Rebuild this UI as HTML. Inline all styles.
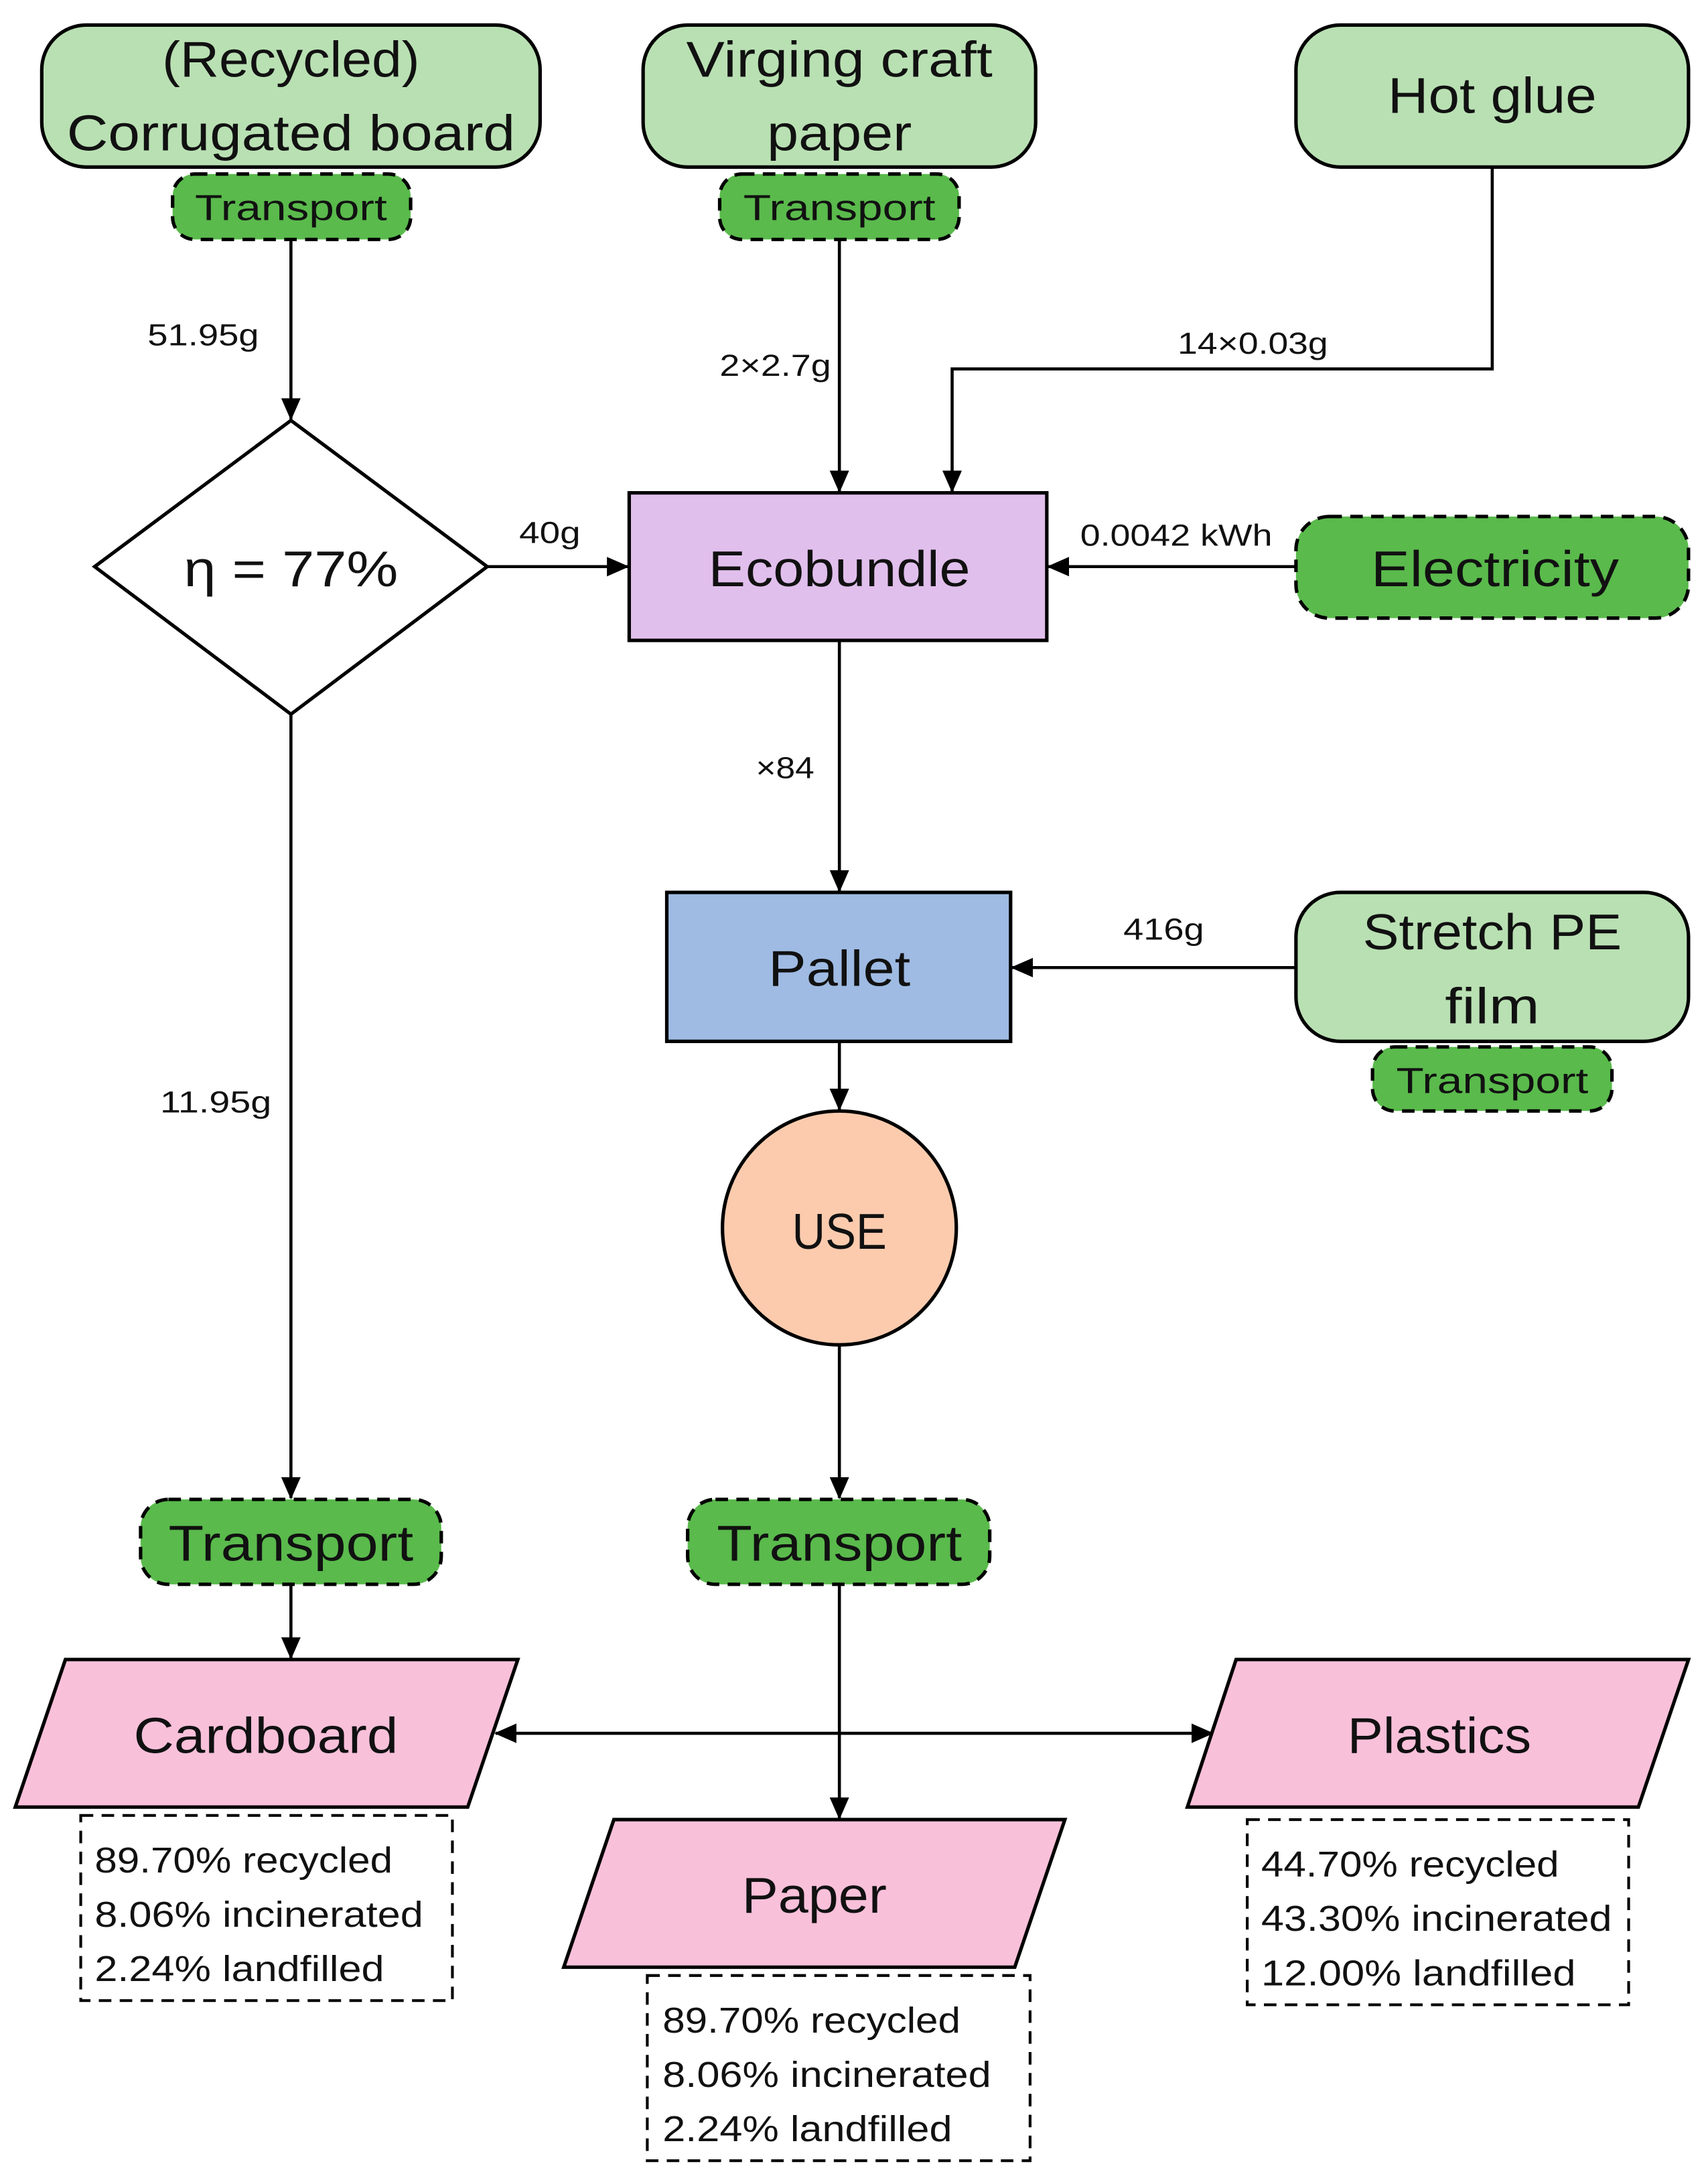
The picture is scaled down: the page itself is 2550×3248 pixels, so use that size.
<!DOCTYPE html>
<html><head><meta charset="utf-8"><style>
html,body{margin:0;padding:0;background:#fff;}
svg{display:block;}
text{font-family:"Liberation Sans",sans-serif;fill:#111;}
</style></head><body>
<svg width="2550" height="3248" viewBox="0 0 1227 1563" preserveAspectRatio="none" xmlns="http://www.w3.org/2000/svg">
<defs>
<marker id="as" markerWidth="16" markerHeight="16" refX="15" refY="7" orient="auto" markerUnits="userSpaceOnUse"><path d="M0,0 L16,7 L0,14 z" fill="#000"/></marker>
<marker id="ae" markerWidth="16" markerHeight="16" refX="1" refY="7" orient="auto" markerUnits="userSpaceOnUse"><path d="M16,0 L0,7 L16,14 z" fill="#000"/></marker>
</defs>
<g stroke="#000" stroke-width="2.2" fill="none">
<line x1="209" y1="172" x2="209" y2="301" marker-end="url(#as)"/>
<line x1="603" y1="172" x2="603" y2="353" marker-end="url(#as)"/>
<polyline points="1072,120 1072,265 684,265 684,353" marker-end="url(#as)"/>
<line x1="350" y1="407" x2="451" y2="407" marker-end="url(#as)"/>
<line x1="931" y1="407" x2="753" y2="407" marker-end="url(#as)"/>
<line x1="603" y1="460" x2="603" y2="640" marker-end="url(#as)"/>
<line x1="931" y1="695" x2="727" y2="695" marker-end="url(#as)"/>
<line x1="603" y1="748" x2="603" y2="797" marker-end="url(#as)"/>
<line x1="603" y1="966" x2="603" y2="1076" marker-end="url(#as)"/>
<line x1="209" y1="513" x2="209" y2="1076" marker-end="url(#as)"/>
<line x1="209" y1="1138" x2="209" y2="1191" marker-end="url(#as)"/>
<line x1="603" y1="1138" x2="603" y2="1306" marker-end="url(#as)"/>
<line x1="356" y1="1245" x2="871" y2="1245" marker-start="url(#ae)" marker-end="url(#as)"/>
</g>
<g stroke="#000" stroke-width="2.5">
<rect x="30" y="18" width="358" height="102" rx="32" fill="#b9e0b3"/>
<rect x="462" y="18" width="282" height="102" rx="32" fill="#b9e0b3"/>
<rect x="931" y="18" width="282" height="102" rx="32" fill="#b9e0b3"/>
<rect x="931" y="641" width="282" height="107" rx="32" fill="#b9e0b3"/>
<rect x="124" y="125" width="171" height="47" rx="16" fill="#5aba4c" stroke-dasharray="9,6"/>
<rect x="517" y="125" width="172" height="47" rx="16" fill="#5aba4c" stroke-dasharray="9,6"/>
<rect x="986" y="752" width="172" height="46" rx="16" fill="#5aba4c" stroke-dasharray="9,6"/>
<rect x="931" y="371" width="282" height="73" rx="24" fill="#5aba4c" stroke-dasharray="9,6"/>
<rect x="101" y="1077" width="216" height="61" rx="20" fill="#5aba4c" stroke-dasharray="9,6"/>
<rect x="494" y="1077" width="217" height="61" rx="20" fill="#5aba4c" stroke-dasharray="9,6"/>
<polygon points="209,302 350,407 209,513 68,407" fill="#fff"/>
<rect x="452" y="354" width="300" height="106" fill="#e1bfec"/>
<rect x="479" y="641" width="247" height="107" fill="#9fbbe3"/>
<circle cx="603" cy="882" r="84" fill="#fccbae"/>
<polygon points="47,1192 372,1192 336,1298 11,1298" fill="#f9c0da"/>
<polygon points="441,1307 765,1307 729,1413 405,1413" fill="#f9c0da"/>
<polygon points="888,1192 1213,1192 1177,1298 853,1298" fill="#f9c0da"/>
<g fill="none" stroke-width="2" stroke-dasharray="9,6">
<rect x="58" y="1304" width="267" height="133"/>
<rect x="465" y="1419" width="275" height="133"/>
<rect x="896" y="1307" width="274" height="133"/>
</g>
</g>
<g text-anchor="middle" font-size="36">
<text x="209" y="55" textLength="185" lengthAdjust="spacingAndGlyphs">(Recycled)</text>
<text x="209" y="108" textLength="322" lengthAdjust="spacingAndGlyphs">Corrugated board</text>
<text x="603" y="55" textLength="220" lengthAdjust="spacingAndGlyphs">Virging craft</text>
<text x="603" y="108" textLength="104" lengthAdjust="spacingAndGlyphs">paper</text>
<text x="1072" y="81" textLength="150" lengthAdjust="spacingAndGlyphs">Hot glue</text>
<text x="1074" y="421" textLength="178" lengthAdjust="spacingAndGlyphs">Electricity</text>
<text x="603" y="421" textLength="188" lengthAdjust="spacingAndGlyphs">Ecobundle</text>
<text x="603" y="708" textLength="102" lengthAdjust="spacingAndGlyphs">Pallet</text>
<text x="1072" y="682" textLength="186" lengthAdjust="spacingAndGlyphs">Stretch PE</text>
<text x="1072" y="735" textLength="68" lengthAdjust="spacingAndGlyphs">film</text>
<text x="603" y="897" textLength="68" lengthAdjust="spacingAndGlyphs">USE</text>
<text x="209" y="421" textLength="154" lengthAdjust="spacingAndGlyphs">η  = 77%</text>
<text x="209" y="1121" textLength="176" lengthAdjust="spacingAndGlyphs">Transport</text>
<text x="603" y="1121" textLength="176" lengthAdjust="spacingAndGlyphs">Transport</text>
<text x="191" y="1259" textLength="190" lengthAdjust="spacingAndGlyphs">Cardboard</text>
<text x="585" y="1374" textLength="104" lengthAdjust="spacingAndGlyphs">Paper</text>
<text x="1034" y="1259" textLength="132" lengthAdjust="spacingAndGlyphs">Plastics</text>
</g>
<g text-anchor="middle" font-size="26">
<text x="209" y="158" textLength="138" lengthAdjust="spacingAndGlyphs">Transport</text>
<text x="603" y="158" textLength="138" lengthAdjust="spacingAndGlyphs">Transport</text>
<text x="1072" y="785" textLength="138" lengthAdjust="spacingAndGlyphs">Transport</text>
</g>
<g text-anchor="middle" font-size="22">
<text x="146" y="248" textLength="80" lengthAdjust="spacingAndGlyphs">51.95g</text>
<text x="557" y="270" textLength="80" lengthAdjust="spacingAndGlyphs">2×2.7g</text>
<text x="900" y="254" textLength="108" lengthAdjust="spacingAndGlyphs">14×0.03g</text>
<text x="395" y="390" textLength="44" lengthAdjust="spacingAndGlyphs">40g</text>
<text x="845" y="392" textLength="138" lengthAdjust="spacingAndGlyphs">0.0042 kWh</text>
<text x="564" y="559" textLength="42" lengthAdjust="spacingAndGlyphs">×84</text>
<text x="836" y="675" textLength="58" lengthAdjust="spacingAndGlyphs">416g</text>
<text x="155" y="799" textLength="80" lengthAdjust="spacingAndGlyphs">11.95g</text>
</g>
<g font-size="26">
<text x="68" y="1345" textLength="214" lengthAdjust="spacingAndGlyphs">89.70% recycled</text>
<text x="68" y="1384" textLength="236" lengthAdjust="spacingAndGlyphs">8.06% incinerated</text>
<text x="68" y="1423" textLength="208" lengthAdjust="spacingAndGlyphs">2.24% landfilled</text>
<text x="476" y="1460" textLength="214" lengthAdjust="spacingAndGlyphs">89.70% recycled</text>
<text x="476" y="1499" textLength="236" lengthAdjust="spacingAndGlyphs">8.06% incinerated</text>
<text x="476" y="1538" textLength="208" lengthAdjust="spacingAndGlyphs">2.24% landfilled</text>
<text x="906" y="1348" textLength="214" lengthAdjust="spacingAndGlyphs">44.70% recycled</text>
<text x="906" y="1387" textLength="252" lengthAdjust="spacingAndGlyphs">43.30% incinerated</text>
<text x="906" y="1426" textLength="226" lengthAdjust="spacingAndGlyphs">12.00% landfilled</text>
</g>
</svg>
</body></html>
